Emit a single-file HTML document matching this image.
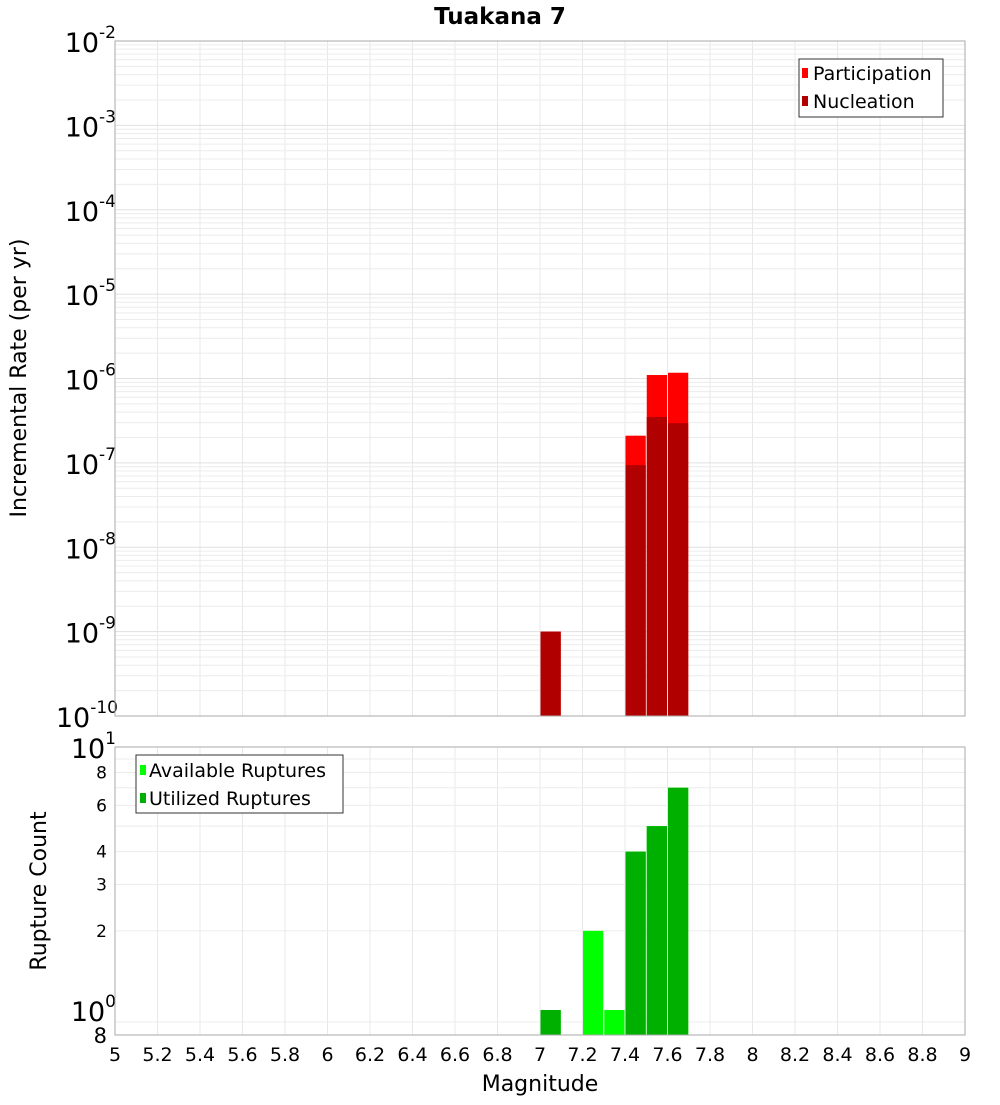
<!DOCTYPE html>
<html><head><meta charset="utf-8"><style>
body{margin:0;background:#fff;width:1000px;height:1100px;overflow:hidden}
svg{font-family:"DejaVu Sans","Liberation Sans",sans-serif}
</style></head><body>
<svg id="chart" width="1000" height="1100" xmlns="http://www.w3.org/2000/svg">
<text x="500" y="24" text-anchor="middle" font-size="23" font-weight="bold">Tuakana 7</text>
<g id="grid"></g>
<g id="bars"></g>
<g id="axes"></g>
<rect x="115" y="41" width="850" height="675" fill="none" stroke="#aaa"/>
<rect x="115" y="747" width="850" height="288" fill="none" stroke="#aaa"/>
<text transform="translate(26,378) rotate(-90)" text-anchor="middle" font-size="22">Incremental Rate (per yr)</text>
<text transform="translate(46,891) rotate(-90)" text-anchor="middle" font-size="22">Rupture Count</text>
<text x="540" y="1091" text-anchor="middle" font-size="22">Magnitude</text>
<g>
<rect x="799" y="59" width="144" height="58" fill="#fff" stroke="#333"/>
<rect x="802" y="68" width="6" height="10" fill="#ff0000"/>
<text x="813" y="80" font-size="19">Participation</text>
<rect x="802" y="96" width="6" height="10" fill="#b00000"/>
<text x="813" y="108" font-size="19">Nucleation</text>
</g>
<g>
<rect x="136" y="755" width="207" height="58" fill="#fff" stroke="#333"/>
<rect x="140" y="765" width="6" height="10" fill="#00ff00"/>
<text x="149" y="777" font-size="19">Available Ruptures</text>
<rect x="140" y="793" width="6" height="10" fill="#00b000"/>
<text x="149" y="805" font-size="19">Utilized Ruptures</text>
</g>
</svg>
<script>
const mags = [7.05, 7.25, 7.35, 7.45, 7.55, 7.65];
const participation = [1.0e-9, 0, 0, 2.1e-7, 1.1e-6, 1.17e-6];
const nucleation = [1.0e-9, 0, 0, 9.4e-8, 3.5e-7, 2.95e-7];
const available = [1, 2, 1, 4, 5, 7];
const utilized = [1, 0, 0, 4, 5, 7];
const xTicks = [5,5.2,5.4,5.6,5.8,6,6.2,6.4,6.6,6.8,7,7.2,7.4,7.6,7.8,8,8.2,8.4,8.6,8.8,9];
const topExps = [-2,-3,-4,-5,-6,-7,-8,-9,-10];
const bottomTicks = [2,3,4,6,8];

const NS = "http://www.w3.org/2000/svg";
const X0=115, X1=965;
const xs = m => X0 + (m-5)/(9-5)*(X1-X0);
const yTop = v => 41 + (-2 - Math.log10(v)) * (675/8);
const yBot = v => 1010 - Math.log10(v) * 263;
function mk(tag, attrs, parent){const e=document.createElementNS(NS,tag);for(const k in attrs)e.setAttribute(k,attrs[k]);parent.appendChild(e);return e;}
const grid=document.getElementById('grid'), bars=document.getElementById('bars'), axes=document.getElementById('axes');

xTicks.forEach(t=>{
  const x=xs(t);
  let l=mk('line',{x1:x,x2:x,y1:41,y2:716,stroke:'#e8e8e8'},grid);
  
  
  l=mk('line',{x1:x,x2:x,y1:747,y2:1035,stroke:'#e8e8e8'},grid);
  
  
  const tx=mk('text',{x:x,y:1061,'text-anchor':'middle','font-size':19},axes);
  tx.textContent=String(t);
  
  
});
for(let e=-10;e<-2;e++){
  for(let k=1;k<10;k++){
    const y=yTop(k*Math.pow(10,e));
    const l=mk('line',{x1:X0,x2:X1,y1:y,y2:y,stroke:k==1?'#e0e0e0':'#ececec'},grid);
    
    
  }
}
topExps.forEach(e=>{
  const y=yTop(Math.pow(10,e));
  const t=mk('text',{x:e==-10?118:116,y:y+11,'text-anchor':'end','font-size':27},axes);
  
  
  const b=mk('tspan',{},t); b.textContent='10';
  const s=mk('tspan',{dy:-14,'font-size':17}, t); s.textContent=String(e);
});
[0.9,2,3,4,5,6,7,8,9].forEach(v=>{
  const y=yBot(v);
  const l=mk('line',{x1:X0,x2:X1,y1:y,y2:y,stroke:'#ececec'},grid);
  
  
});
bottomTicks.forEach(v=>{
  const t=mk('text',{x:107,y:yBot(v)+6,'text-anchor':'end','font-size':17},axes);
  t.textContent=String(v);
  
  
});
[[1,'0',1010],[10,'1',747]].forEach(([v,e,y])=>{
  const t=mk('text',{x:116,y:y+11,'text-anchor':'end','font-size':27},axes);
  
  
  const b=mk('tspan',{},t); b.textContent='10';
  const s=mk('tspan',{dy:-14,'font-size':17},t); s.textContent=e;
});
{const t=mk('text',{x:107,y:1043,'text-anchor':'end','font-size':21},axes);t.textContent='8';

}

const w=xs(5.1)-xs(5);
function bar(m,y0,y1,fill,name){
  const r=mk('rect',{x:xs(m)-w/2+0.5,y:y0,width:w-1,height:Math.max(0,y1-y0),fill:fill},bars);
  
  
}
mags.forEach((m,i)=>{
  if(participation[i]>0) bar(m,yTop(participation[i]),716,'#ff0000','participation-bar');
  if(nucleation[i]>0) bar(m,yTop(nucleation[i]),716,'#b00000','nucleation-bar');
  if(available[i]>0) bar(m,yBot(available[i]),1035,'#00ff00','available-bar');
  if(utilized[i]>0) bar(m,yBot(utilized[i]),1035,'#00b000','utilized-bar');
});
</script>
</body></html>
